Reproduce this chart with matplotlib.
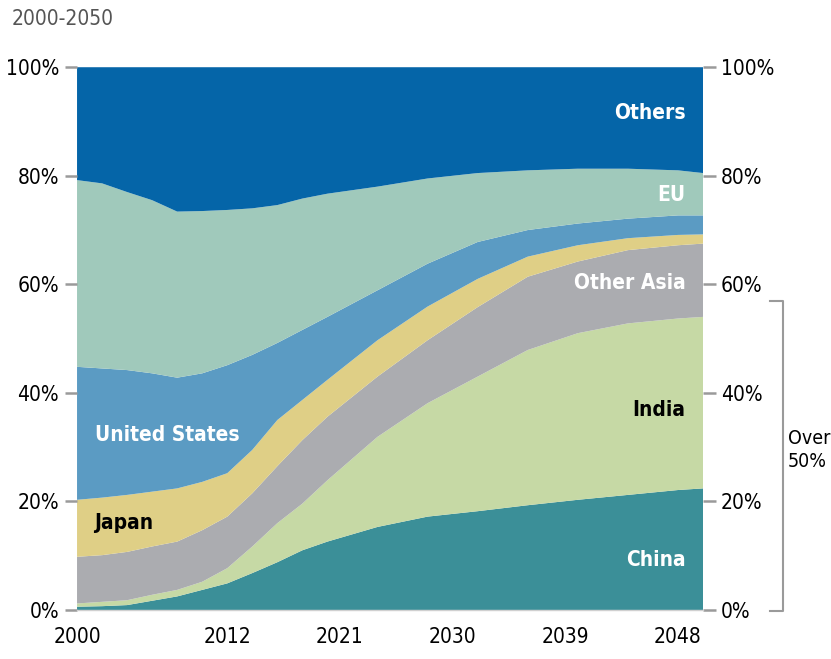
#!/usr/bin/env python3

"""
Share of world GDP by region, 2000-2050 (stacked area chart).
"""

import matplotlib
matplotlib.use("Agg")
import matplotlib.pyplot as plt

# Data (percent share, bottom to top)
years = [2000, 2002, 2004, 2006, 2008, 2010, 2012, 2014, 2016, 2018,
         2020, 2024, 2028, 2032, 2036, 2040, 2044, 2048, 2050]
china = [0.6, 0.7, 0.9, 1.7, 2.5, 3.7, 4.9, 6.8, 8.8, 11.0,
         12.6, 15.3, 17.2, 18.2, 19.3, 20.3, 21.2, 22.1, 22.4]
india = [0.6, 0.8, 0.9, 1.1, 1.2, 1.5, 2.8, 4.9, 7.2, 8.6,
         11.3, 16.6, 20.9, 24.8, 28.6, 30.7, 31.6, 31.6, 31.6]
other_asia = [8.6, 8.6, 8.9, 8.9, 8.9, 9.5, 9.5, 9.8, 10.5, 11.7,
              11.7, 11.1, 11.6, 12.8, 13.5, 13.2, 13.5, 13.5, 13.5]
japan = [10.5, 10.6, 10.5, 10.1, 9.8, 8.9, 8.0, 8.0, 8.5, 7.4,
         6.8, 6.7, 6.2, 5.2, 3.7, 3.0, 2.2, 1.9, 1.7]
united_states = [24.5, 23.8, 23.0, 21.8, 20.4, 20.0, 19.9, 17.5, 14.2, 12.9,
                 11.6, 9.2, 7.9, 6.8, 4.9, 4.0, 3.6, 3.6, 3.5]
eu = [34.4, 34.1, 32.8, 31.9, 30.6, 29.9, 28.6, 27.0, 25.4, 24.2,
      22.7, 19.1, 15.7, 12.7, 11.0, 10.1, 9.2, 8.3, 7.8]
others = [20.8, 21.4, 23.0, 24.5, 26.6, 26.5, 26.3, 26.0, 25.4, 24.2,
          23.3, 22.0, 20.5, 19.5, 19.0, 18.7, 18.7, 19.0, 19.5]

x_tick_years = [2000, 2012, 2021, 2030, 2039, 2048]
y_ticks = [0, 20, 40, 60, 80, 100]
y_tick_labels = ["0%", "20%", "40%", "60%", "80%", "100%"]

colors = ["#3b8f98", "#c6d9a5", "#abacb0", "#dfcf86", "#5b9bc3", "#a0c9bb", "#0565a8"]

plt.rcParams["font.family"] = ["DejaVu Sans"]
plt.rcParams["font.stretch"] = "condensed"

fig = plt.figure(figsize=(8.31, 6.59), dpi=100)
ax = fig.add_axes([0.0927, 0.0744, 0.7533, 0.8236])

ax.stackplot(years, china, india, other_asia, japan, united_states, eu, others,
             colors=colors, linewidth=0)

ax.set_xlim(2000, 2050)
ax.set_ylim(0, 100)

for side in ["top", "left", "right"]:
    ax.spines[side].set_visible(False)
ax.spines["bottom"].set_color("#d0d0d0")
ax.spines["bottom"].set_linewidth(1)

ax.set_xticks(x_tick_years)
ax.set_xticklabels([str(y) for y in x_tick_years], fontsize=15)
ax.tick_params(axis="x", length=0, pad=12)

ax.set_yticks(y_ticks)
ax.set_yticklabels(y_tick_labels, fontsize=15)
ax.tick_params(axis="y", length=9, width=1.8, color="#9a9a9a", pad=4,
               left=True, right=True, labelleft=True, labelright=True)

# Series labels
label_kw = dict(fontsize=15, fontweight="bold", va="center")
ax.text(2048.6, 91.5, "Others", color="white", ha="right", **label_kw)
ax.text(2048.6, 76.4, "EU", color="white", ha="right", **label_kw)
ax.text(2048.6, 60.2, "Other Asia", color="white", ha="right", **label_kw)
ax.text(2048.6, 36.8, "India", color="black", ha="right", **label_kw)
ax.text(2048.6, 9.2, "China", color="white", ha="right", **label_kw)
ax.text(2001.4, 32.2, "United States", color="white", ha="left", **label_kw)
ax.text(2001.4, 16.0, "Japan", color="black", ha="left", **label_kw)

# Bracket on the right
bx0, bx1 = 770 / 831, 783 / 831
y_top = (659 - 301) / 659
y_bot = (659 - 611) / 659
fig.add_artist(plt.Line2D([bx0, bx1, bx1, bx0], [y_top, y_top, y_bot, y_bot],
                          color="#9a9a9a", linewidth=1.5))
fig.text(788 / 831, (659 - 450) / 659, "Over\n50%", fontsize=14,
         ha="left", va="center", linespacing=1.3)

fig.text(12 / 831, (659 - 19) / 659, "2000-2050", fontsize=15, color="#555555",
         ha="left", va="center")

fig.savefig("out.png", dpi=100)
